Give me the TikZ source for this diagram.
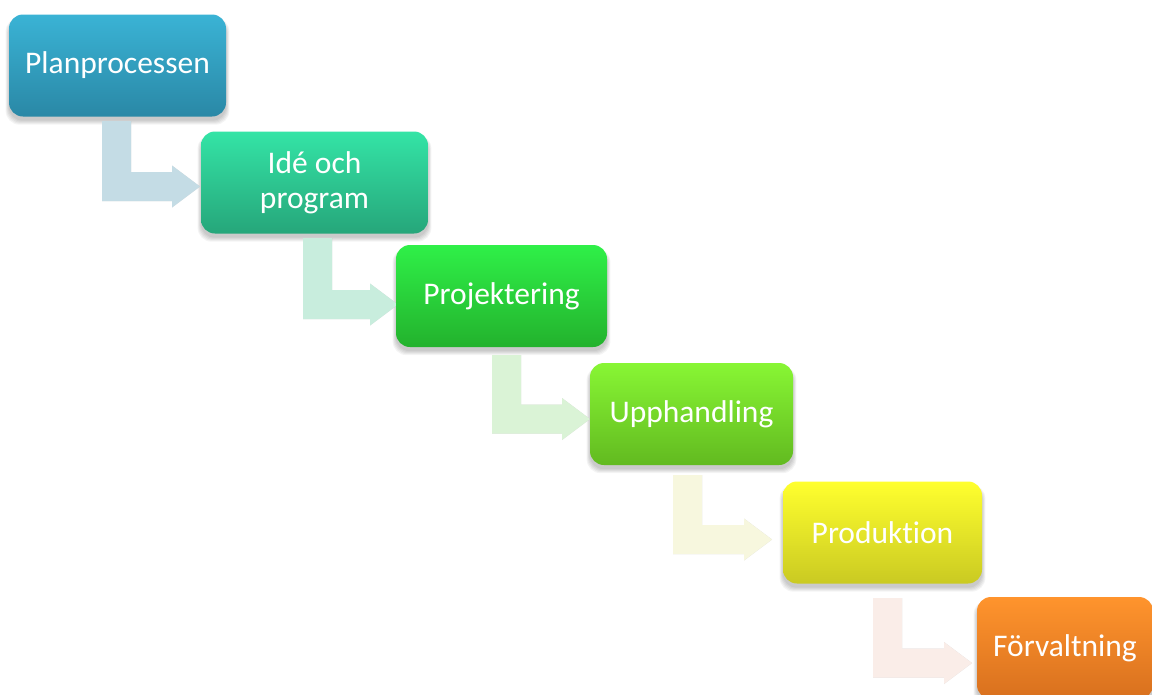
\documentclass[tikz,border=0pt]{standalone}
\usepackage{fontspec}
\setmainfont{Carlito}[Ligatures=NoCommon]
\usetikzlibrary{calc,backgrounds}

% box gradients (top / bottom)
\definecolor{planT}{RGB}{58,179,213}   \definecolor{planB}{RGB}{42,136,166}
\definecolor{ideT}{RGB}{52,228,166}    \definecolor{ideB}{RGB}{38,166,122}
\definecolor{projT}{RGB}{47,240,72}    \definecolor{projB}{RGB}{35,178,45}
\definecolor{uppT}{RGB}{136,246,52}    \definecolor{uppB}{RGB}{98,186,32}
\definecolor{prodT}{RGB}{255,255,46}   \definecolor{prodB}{RGB}{202,202,34}
\definecolor{forvT}{RGB}{255,148,45}   \definecolor{forvB}{RGB}{216,112,30}
% pale bent arrows
\definecolor{arrA}{RGB}{196,220,229}
\definecolor{arrB}{RGB}{200,237,221}
\definecolor{arrC}{RGB}{218,243,214}
\definecolor{arrD}{RGB}{247,247,222}
\definecolor{arrE}{RGB}{250,237,232}

\tikzset{
  stepbox/.style={rounded corners=14pt, minimum height=102pt, inner sep=0pt,
    text=white, align=center, font=\fontsize{31.5}{35}\selectfont},
}

% bent-up arrow: #1 colour, #2 top-left corner of the stem, #3 tip
\newcommand\steparrow[3]{%
  \foreach \s in {1,2,3}{%
    \fill[black, opacity=0.05, shift={(0.5*\s pt,-0.9*\s pt)}]
      let \p1=(#2), \p2=(#3) in
      (\x1,\y1) -- ({\x1+29pt},\y1) -- ({\x1+29pt},{\y2+14.5pt})
      -- ({\x2-28pt},{\y2+14.5pt}) -- ({\x2-28pt},{\y2+21pt}) -- (\x2,\y2)
      -- ({\x2-28pt},{\y2-21pt}) -- ({\x2-28pt},{\y2-14.5pt})
      -- (\x1,{\y2-14.5pt}) -- cycle;
  }
  \fill[#1]
    let \p1=(#2), \p2=(#3) in
    (\x1,\y1) -- ({\x1+29pt},\y1) -- ({\x1+29pt},{\y2+14.5pt})
    -- ({\x2-28pt},{\y2+14.5pt}) -- ({\x2-28pt},{\y2+21pt}) -- (\x2,\y2)
    -- ({\x2-28pt},{\y2-21pt}) -- ({\x2-28pt},{\y2-14.5pt})
    -- (\x1,{\y2-14.5pt}) -- cycle;
}

\begin{document}
\begin{tikzpicture}[x=1pt,y=-1pt]
  \useasboundingbox (0,0) rectangle (1152,694);

  % process steps
  \node[stepbox, minimum width=217pt, top color=planT, bottom color=planB]
    (p1) at (117.5,65.5) {\raisebox{-1.5pt}{Planprocessen}};
  \node[stepbox, minimum width=227pt, top color=ideT, bottom color=ideB]
    (p2) at (314.5,182.5) {Idé och\\program};
  \node[stepbox, minimum width=211pt, top color=projT, bottom color=projB]
    (p3) at (501.5,296) {\raisebox{-1.5pt}{Projektering}};
  \node[stepbox, minimum width=203pt, top color=uppT, bottom color=uppB]
    (p4) at (691.5,414) {\raisebox{-1.5pt}{Upphandling}};
  \node[stepbox, minimum width=199pt, top color=prodT, bottom color=prodB]
    (p5) at (882.5,532.5) {\raisebox{-1.5pt}{Produktion}};
  \node[stepbox, minimum width=176pt, top color=forvT, bottom color=forvB]
    (p6) at (1065,648) {\raisebox{-1.5pt}{Förvaltning}};

  % arrow anchors: stem top-left and tip
  \coordinate (a1s) at (102,121);  \coordinate (a1t) at (200,186.5);
  \coordinate (a2s) at (303,238);  \coordinate (a2t) at (398,304.5);
  \coordinate (a3s) at (492,355);  \coordinate (a3t) at (590,419);
  \coordinate (a4s) at (673,475);  \coordinate (a4t) at (772,539.5);
  \coordinate (a5s) at (873,598);  \coordinate (a5t) at (972,663);

  \begin{scope}[on background layer]
    \fill[white] (0,0) rectangle (1152,694);
    % soft drop shadows under the boxes
    \foreach \n in {p1,p2,p3,p4,p5,p6}{
      \foreach \k in {0,1,2,3,4}{
        \fill[black, opacity=0.045, rounded corners=14pt]
          ([shift={(-0.8*\k pt,-5pt+0.4*\k pt)}]\n.north west)
          rectangle ([shift={(0.8*\k pt,-4pt-\k pt)}]\n.south east);
      }
    }
    \steparrow{arrA}{a1s}{a1t}
    \steparrow{arrB}{a2s}{a2t}
    \steparrow{arrC}{a3s}{a3t}
    \steparrow{arrD}{a4s}{a4t}
    \steparrow{arrE}{a5s}{a5t}
  \end{scope}
\end{tikzpicture}
\end{document}
